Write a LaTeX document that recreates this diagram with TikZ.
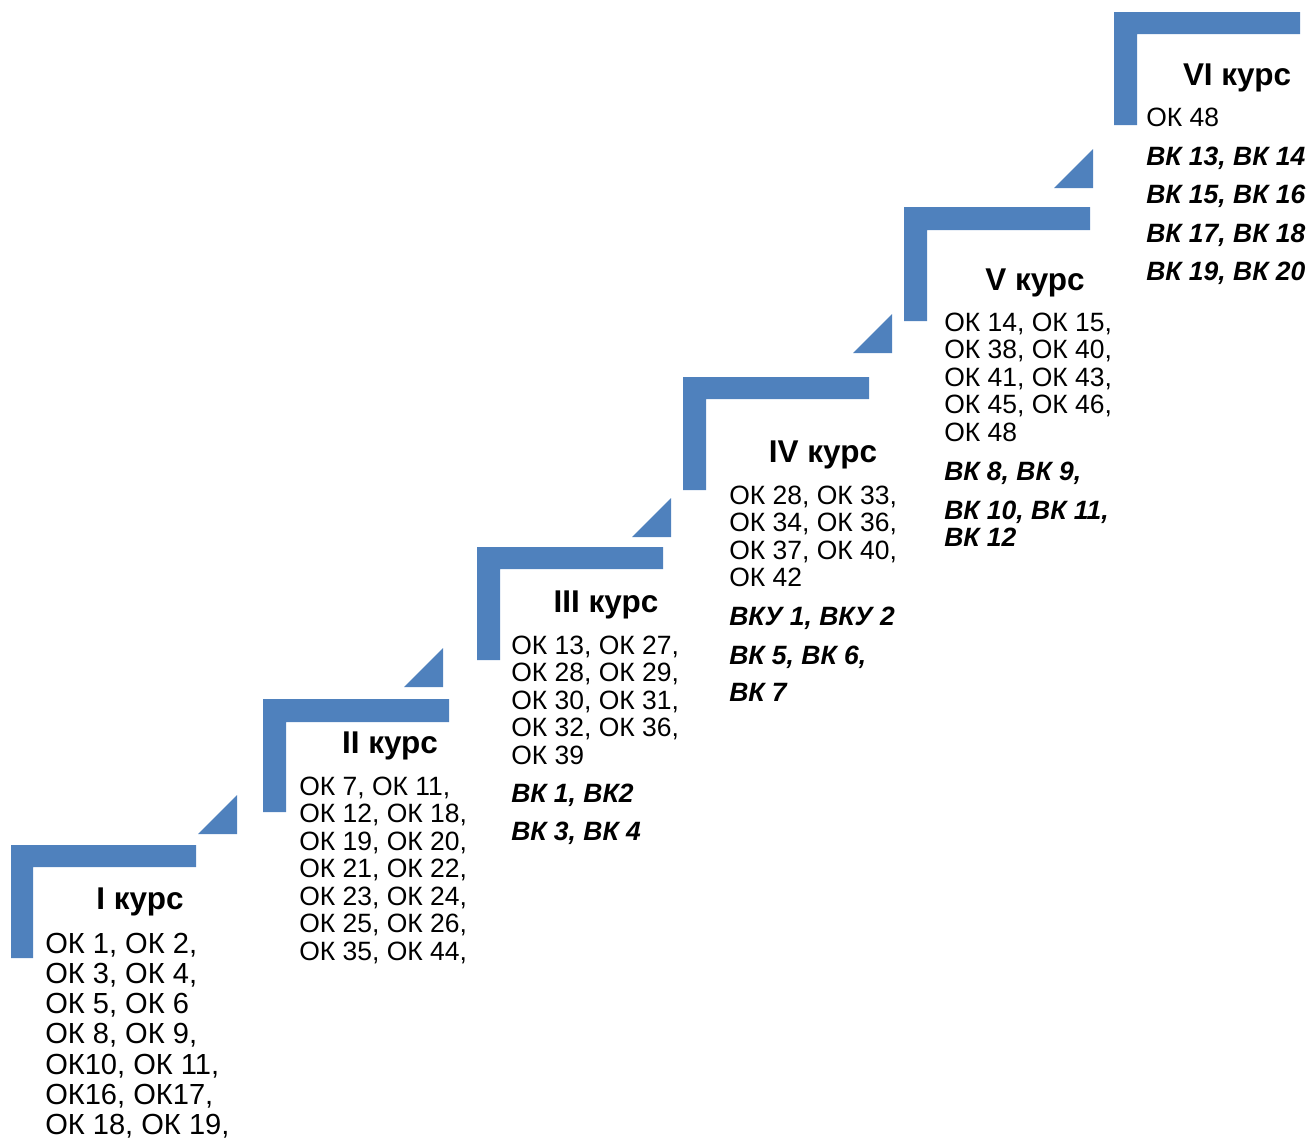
\documentclass[tikz,border=0pt]{standalone}
\usepackage{fontspec}
\setmainfont{Liberation Sans}
\definecolor{stepblue}{RGB}{79,129,189}
\newcommand\stepcorner[6]{% left, inner, top, barbottom, right, bottom
  \fill[stepblue] (#1,#3) -- (#5,#3) -- (#5,#4) -- (#2,#4) -- (#2,#6) -- (#1,#6) -- cycle;}
\newcommand\steptri[3]{% left x, right x, bottom y, top y = bottom - 39
  \fill[stepblue] (#1,#3) -- (#2,#3) -- (#2,{#3-39}) -- cycle;}
\begin{document}
\begin{tikzpicture}[x=0.75pt,y=-0.75pt,
  body/.style={font=\fontsize{19.85}{22}\selectfont, anchor=base west, inner sep=0pt},
  bodyI/.style={font=\fontsize{21.8}{24}\selectfont, anchor=base west, inner sep=0pt},
  bi/.style={font=\fontsize{19.85}{22}\selectfont\bfseries\itshape, anchor=base west, inner sep=0pt},
  title/.style={font=\fontsize{23.6}{26}\selectfont\bfseries, anchor=base, inner sep=0pt}]
\useasboundingbox (0,0) rectangle (1310,1139);
% steps
\stepcorner{11}{33}{845}{867}{196}{958}
\steptri{198}{237}{834}
\stepcorner{263}{286}{699}{722}{449}{812}
\steptri{404}{443}{687}
\stepcorner{477}{500}{547}{569}{663}{660}
\steptri{632}{671}{537}
\stepcorner{683}{706}{377}{399}{869}{490}
\steptri{853}{892}{353}
\stepcorner{904}{927}{207}{230}{1090}{321}
\steptri{1054}{1093}{188}
\stepcorner{1114}{1137}{12}{34}{1300}{125}
% titles
\node[title] (h1) at (140,909) {I курс};
\node[title] (h2) at (390,753) {II курс};
\node[title] (h3) at (606,612) {III курс};
\node[title] (h4) at (823,462) {IV курс};
\node[title] (h5) at (1035,290) {V курс};
\node[title] (h6) at (1237,85) {VI курс};
% course I
\foreach \t [count=\i from 0] in {{ОК 1, ОК 2,},{ОК 3, ОК 4,},{ОК 5, ОК 6},{ОК 8, ОК 9,},{ОК10, ОК 11,},{ОК16, ОК17,},{ОК 18, ОК 19,}}
  \node[bodyI] (a1-\i) at (45,{953+\i*30.3}) {\t};
% course II
\foreach \t [count=\i from 0] in {{ОК 7, ОК 11,},{ОК 12, ОК 18,},{ОК 19, ОК 20,},{ОК 21, ОК 22,},{ОК 23, ОК 24,},{ОК 25, ОК 26,},{ОК 35, ОК 44,}}
  \node[body] (a2-\i) at (299,{795+\i*27.5}) {\t};
% course III
\foreach \t [count=\i from 0] in {{ОК 13, ОК 27,},{ОК 28, ОК 29,},{ОК 30, ОК 31,},{ОК 32, ОК 36,},{ОК 39}}
  \node[body] (a3-\i) at (511,{654+\i*27.5}) {\t};
\node[bi] (v3-1) at (511,802) {ВК 1, ВК2};
\node[bi] (v3-2) at (511,840) {ВК 3, ВК 4};
% course IV
\foreach \t [count=\i from 0] in {{ОК 28, ОК 33,},{ОК 34, ОК 36,},{ОК 37, ОК 40,},{ОК 42}}
  \node[body] (a4-\i) at (729,{504+\i*27.5}) {\t};
\node[bi] (v4-1) at (729,625) {ВКУ 1, ВКУ 2};
\node[bi] (v4-2) at (729,664) {ВК 5, ВК 6,};
\node[bi] (v4-3) at (729,701) {ВК 7};
% course V
\foreach \t [count=\i from 0] in {{ОК 14, ОК 15,},{ОК 38, ОК 40,},{ОК 41, ОК 43,},{ОК 45, ОК 46,},{ОК 48}}
  \node[body] (a5-\i) at (944,{331+\i*27.5}) {\t};
\node[bi] (v5-1) at (944,480) {ВК 8, ВК 9,};
\node[bi] (v5-2) at (944,519) {ВК 10, ВК 11,};
\node[bi] (v5-3) at (944,546) {ВК 12};
% course VI
\node[body] (a6-0) at (1146,126) {ОК 48};
\node[bi] (v6-1) at (1146,165) {ВК 13, ВК 14};
\node[bi] (v6-2) at (1146,203) {ВК 15, ВК 16};
\node[bi] (v6-3) at (1146,242) {ВК 17, ВК 18};
\node[bi] (v6-4) at (1146,280) {ВК 19, ВК 20};
\end{tikzpicture}
\end{document}
